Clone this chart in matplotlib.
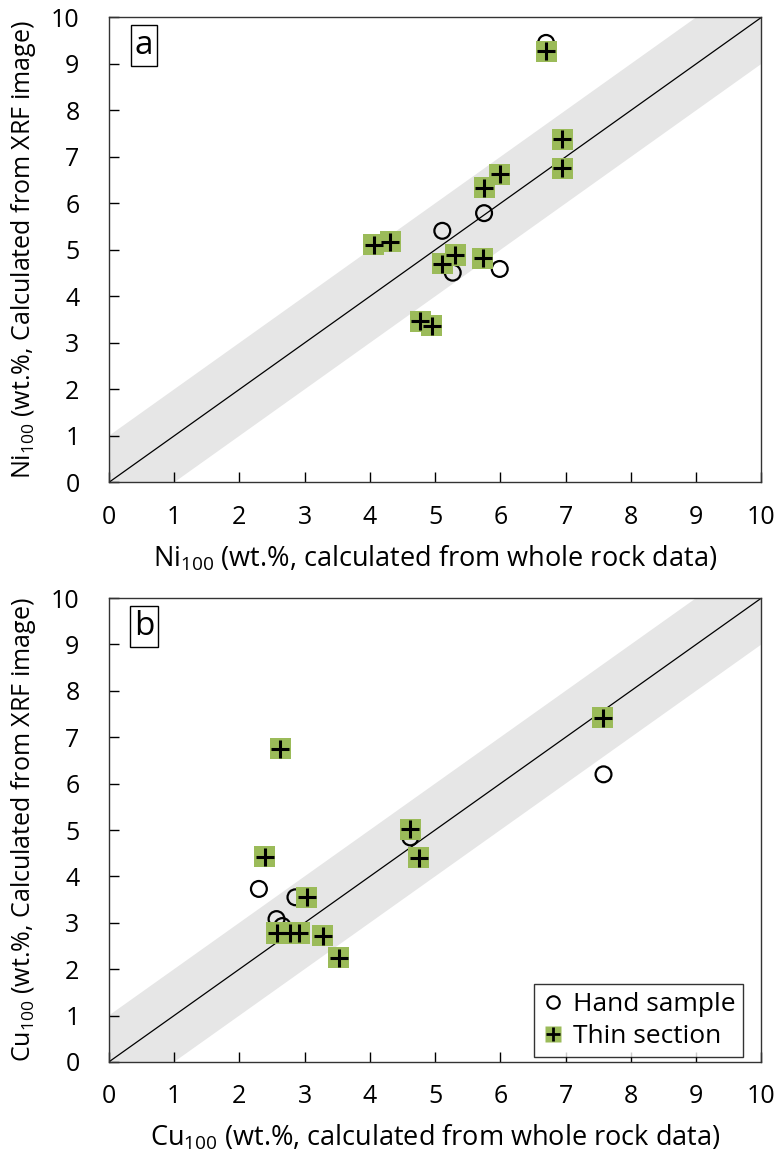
import numpy as np
import matplotlib
matplotlib.use("Agg")
import matplotlib.pyplot as plt
from matplotlib.lines import Line2D

plt.rcParams['font.family'] = ['Open Sans', 'DejaVu Sans']
plt.rcParams['mathtext.fontset'] = 'custom'
plt.rcParams['mathtext.rm'] = 'Open Sans'
plt.rcParams['mathtext.it'] = 'Open Sans'

# Panel a: Ni
ni_hand_x = [6.70, 5.75, 5.11, 5.27, 5.99]
ni_hand_y = [9.45, 5.79, 5.41, 4.51, 4.59]
ni_thin_x = [6.70, 6.95, 6.95, 5.99, 5.75, 4.06, 4.31, 5.31, 5.11, 5.73, 4.77, 4.95]
ni_thin_y = [9.27, 7.38, 6.75, 6.63, 6.34, 5.11, 5.18, 4.89, 4.70, 4.82, 3.47, 3.37]

# Panel b: Cu
cu_hand_x = [7.58, 4.62, 2.30, 2.86, 2.57, 2.66]
cu_hand_y = [6.20, 4.84, 3.73, 3.55, 3.08, 2.93]
cu_thin_x = [7.57, 2.63, 4.62, 4.75, 2.39, 3.03, 2.57, 2.77, 2.92, 3.28, 3.52]
cu_thin_y = [7.42, 6.75, 5.02, 4.40, 4.42, 3.55, 2.78, 2.78, 2.78, 2.72, 2.25]

ticks = list(range(0, 11))
band = 1.0
green = '#9BBB59'

fig = plt.figure(figsize=(7.77, 11.71), dpi=100)
ax_a = fig.add_axes([0.140, 0.588, 0.840, 0.3972])
ax_b = fig.add_axes([0.140, 0.0931, 0.840, 0.3962])

def draw(ax, hx, hy, tx, ty, letter, elem, legend=False):
    xs = np.array([0, 10])
    ax.fill_between([-1, 11], [-1 - band, 11 - band], [-1 + band, 11 + band],
                    color='#e6e6e6', lw=0, zorder=0)
    ax.plot(xs, xs, color='black', lw=0.9, zorder=1)
    ax.scatter(hx, hy, s=130, facecolors='none', edgecolors='black', linewidths=1.6,
               zorder=3)
    ax.scatter(tx, ty, s=230, marker='s', color=green, edgecolors='none', zorder=4)
    ax.scatter(tx, ty, s=150, marker='+', color='black', linewidths=2.2, zorder=5)
    ax.set_xlim(0, 10)
    ax.set_ylim(0, 10)
    ax.set_xticks(ticks)
    ax.set_yticks(ticks)
    ax.tick_params(direction='in', length=7, width=1.0, labelsize=18,
                   top=False, right=False)
    ax.tick_params(axis='x', pad=16)
    ax.tick_params(axis='y', pad=21)
    for s in ax.spines.values():
        s.set_linewidth(1.0)
        s.set_color('#333333')
    ax.set_xlabel(elem + r'$_{100}$' + ' (wt.%, calculated from whole rock data)',
                  fontsize=19.5, labelpad=10)
    ax.set_ylabel(elem + r'$_{100}$' + ' (wt.%, Calculated from XRF image)',
                  fontsize=18)
    ax.yaxis.set_label_coords(-0.108, 0.5)
    ax.text(0.054, 0.939, letter, transform=ax.transAxes, fontsize=24,
            va='center', ha='center',
            bbox=dict(boxstyle='square,pad=0.12', fc='white', ec='black', lw=1.0))
    if legend:
        h1 = Line2D([], [], ls='none', marker='o', mfc='none', mec='black', mew=1.5, ms=9)
        h2a = Line2D([], [], ls='none', marker='s', mfc=green, mec='none', ms=12)
        h2b = Line2D([], [], ls='none', marker='+', color='black', mew=2.0, ms=10)
        leg = ax.legend([h1, (h2a, h2b)], ['Hand sample', 'Thin section'],
                        loc='lower right', fontsize=19, frameon=True, fancybox=False,
                        edgecolor='black', handletextpad=0.35, borderpad=0.3,
                        labelspacing=0.25, handlelength=0.8, borderaxespad=0,
                        bbox_to_anchor=(0.972, 0.011))
        leg.get_frame().set_linewidth(1.0)

draw(ax_a, ni_hand_x, ni_hand_y, ni_thin_x, ni_thin_y, 'a', 'Ni')
draw(ax_b, cu_hand_x, cu_hand_y, cu_thin_x, cu_thin_y, 'b', 'Cu', legend=True)

fig.savefig('out.png', dpi=100)
